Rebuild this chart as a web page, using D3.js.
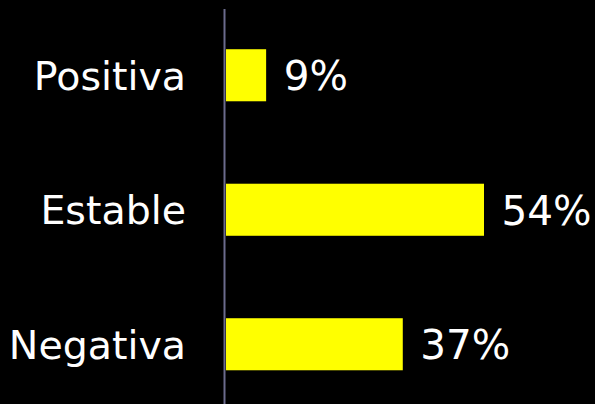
<!DOCTYPE html>
<html><head><meta charset="utf-8">
<script src="https://cdn.jsdelivr.net/npm/d3@7"></script>
<style>html,body{margin:0;padding:0;background:#000;}svg{display:block;}</style>
</head><body>
<script>
const categories = ["Positiva", "Estable", "Negativa"];
const values = [8.4, 54, 37];
const valueLabels = ["9%", "54%", "37%"];

const W = 595, H = 404;
const svg = d3.select("body").append("svg").attr("width", W).attr("height", H)
  .style("background", "#000");

const x = d3.scaleLinear().domain([0, 54]).range([226, 484]);
const y = d3.scaleBand().domain(categories).range([8, 411.5]).paddingInner(0.613).paddingOuter(0.3065);

const data = categories.map((c, i) => ({c, v: values[i], l: valueLabels[i]}));

svg.selectAll("rect.bar").data(data).join("rect")
  .attr("class", "bar")
  .attr("x", x(0))
  .attr("y", d => y(d.c))
  .attr("width", d => x(d.v) - x(0))
  .attr("height", y.bandwidth())
  .attr("fill", "#ffff00");

svg.append("line")
  .attr("x1", 224.5).attr("x2", 224.5).attr("y1", 9).attr("y2", H)
  .attr("stroke", "#6b6b8c").attr("stroke-width", 2);

svg.selectAll("text.cat").data(data).join("text")
  .attr("class", "cat")
  .attr("x", 186)
  .attr("y", d => y(d.c) + y.bandwidth() / 2)
  .attr("dy", "0.37em")
  .attr("text-anchor", "end")
  .attr("fill", "#ffffff")
  .style("font-family", "Verdana, 'DejaVu Sans', sans-serif")
  .style("font-size", "39.5px")
  .text(d => d.c);

svg.selectAll("text.val").data(data).join("text")
  .attr("class", "val")
  .attr("x", d => x(d.v) + 17.5)
  .attr("y", d => y(d.c) + y.bandwidth() / 2)
  .attr("dy", "0.37em")
  .attr("fill", "#ffffff")
  .style("font-family", "Verdana, 'DejaVu Sans', sans-serif")
  .style("font-size", "40.5px")
  .text(d => d.l);
</script>
</body></html>
